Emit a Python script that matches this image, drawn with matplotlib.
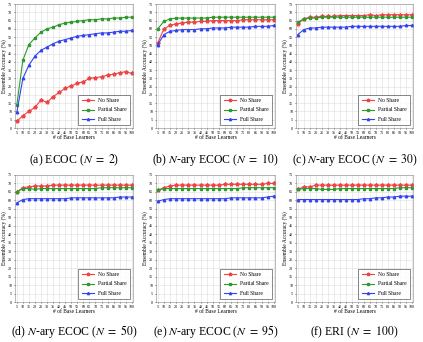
import numpy as np
import matplotlib
matplotlib.use('Agg')
import matplotlib.pyplot as plt

plt.rcParams['font.family'] = ['Liberation Serif', 'DejaVu Serif']
plt.rcParams['mathtext.fontset'] = 'stix'

# number of base learners
x = list(range(5, 105, 5))

# (a) ECOC (N = 2)
a_no = [4, 7.5, 10, 12.5, 17, 15.5, 19, 21.5, 24, 25.5, 27, 28, 30, 30.5, 31, 32, 32.5, 33.5, 34, 33]
a_partial = [14, 41, 50.5, 54.5, 58, 60, 61, 62.5, 63.5, 64, 64.5, 65, 65.5, 65.5, 66, 66, 66.5, 66.5, 67, 67]
a_full = [9.5, 30, 38, 43.5, 47, 49, 51, 52.5, 53.5, 54.5, 55.5, 56, 56.5, 57, 57.5, 57.5, 58, 58.5, 58.5, 59]

# (b) N-ary ECOC (N = 10)
b_no = [51.5, 60, 62, 63, 63.5, 64, 64, 64.5, 64.5, 65, 65, 65, 65, 65, 65.5, 65.5, 65.5, 65.5, 65.5, 65.5]
b_partial = [60, 64.5, 66, 66.5, 66.5, 66.5, 66.5, 66.5, 66.5, 67, 67, 67, 67, 67, 67, 67, 67, 67, 67, 67]
b_full = [50.5, 56.5, 58.5, 59, 59.5, 59.5, 59.5, 60, 60, 60.5, 60.5, 60.5, 61, 61, 61, 61, 61.5, 61.5, 61.5, 62]

# (c) N-ary ECOC (N = 30)
c_no = [63, 66, 67, 67, 67.5, 67.5, 67.5, 68, 68, 68, 68, 68, 68.5, 68, 68.5, 68.5, 68.5, 68.5, 68.5, 68.5]
c_partial = [64, 66, 66.5, 66.5, 67, 67, 67, 67, 67, 67, 67, 67, 67, 67, 67, 67, 67, 67, 67, 67]
c_full = [56.5, 59.5, 60.5, 60.5, 61, 61, 61, 61, 61, 61.5, 61.5, 61.5, 61.5, 61.5, 61.5, 61.5, 61.5, 61.5, 62, 62]

# (d) N-ary ECOC (N = 50)
d_no = [65, 67.5, 68, 68.5, 68.5, 68.5, 69, 69, 69, 69, 69, 69, 69, 69, 69, 69, 69, 69, 69, 69]
d_partial = [65, 67, 67, 66.5, 67, 67, 67, 67, 67, 67, 67, 67, 67, 67, 67.5, 67.5, 67.5, 67.5, 67.5, 67.5]
d_full = [58.5, 60.5, 61, 61, 61, 61, 61, 61, 61, 61.5, 61.5, 61.5, 61.5, 61.5, 61.5, 61.5, 61.5, 62, 62, 62]

# (e) N-ary ECOC (N = 95)
e_no = [66, 67.5, 68.5, 69, 69, 69, 69, 69, 69, 69, 69, 69.5, 69.5, 69.5, 69.5, 69.5, 69.5, 69.5, 70, 70]
e_partial = [66, 67, 67, 67, 67, 67, 67, 67, 67, 67, 67, 67, 67, 67, 67.5, 67.5, 67.5, 67.5, 67.5, 67.5]
e_full = [59.5, 60.5, 61, 61, 61, 61, 61, 61, 61, 61, 61, 61, 61.5, 61.5, 61.5, 61.5, 61.5, 61.5, 62, 62.5]

# (f) ERI (N = 100)
f_no = [66.5, 68, 68, 69, 69, 69, 69, 69, 69, 69, 69, 69, 69, 69, 69, 69, 69, 69, 69, 69]
f_partial = [66.5, 67, 67, 67, 66.5, 66.5, 66.5, 67, 67, 67, 67, 67, 67, 67, 67, 67, 67, 67.5, 67.5, 67.5]
f_full = [60.5, 60.5, 60.5, 60.5, 60.5, 60.5, 60.5, 60.5, 60.5, 60.5, 60.5, 61, 61, 61.5, 61.5, 62, 62, 62.5, 62.5, 62.5]

captions = [r'(a) ECOC ($N\ =\ 2$)', r'(b) $N$-ary ECOC ($N\ =\ 10$)', r'(c) $N$-ary ECOC ($N\ =\ 30$)',
            r'(d) $N$-ary ECOC ($N\ =\ 50$)', r'(e) $N$-ary ECOC ($N\ =\ 95$)', r'(f) ERI ($N\ =\ 100$)']
panels = [(a_no, a_partial, a_full), (b_no, b_partial, b_full), (c_no, c_partial, c_full),
          (d_no, d_partial, d_full), (e_no, e_partial, e_full), (f_no, f_partial, f_full)]

W, H = 423, 342
fig = plt.figure(figsize=(W / 100, H / 100), dpi=100)

lefts = [15, 156, 296]
widths = [118, 119, 117]
tops = [4, 175]
heights = [124, 127]
cap_y = [160, 332]

for i, (no, partial, full) in enumerate(panels):
    r, c = divmod(i, 3)
    l, w = lefts[c], widths[c]
    t, h = tops[r], heights[r]
    ax = fig.add_axes([l / W, 1 - (t + h) / H, w / W, h / H])
    ax.plot(x, no, color='#ee4444', marker='*', markersize=2.8, lw=0.8, label='No Share')
    ax.plot(x, partial, color='#2e9a2e', marker='s', markersize=1.8, lw=0.8, label='Partial Share')
    ax.plot(x, full, color='#3344ee', marker='^', markersize=1.8, lw=0.8, label='Full Share')
    ax.set_xlim(3.5, 101)
    ax.set_ylim(0, 75)
    ax.set_xticks(x)
    ax.set_yticks(range(0, 80, 5))
    ax.tick_params(labelsize=3, length=1, width=0.4, pad=1)
    ax.grid(True, color='#dddddd', lw=0.4)
    for s in ax.spines.values():
        s.set_linewidth(0.4)
        s.set_color('#888888')
    ax.set_xlabel('# of Base Learners', fontsize=4, labelpad=0.5)
    ax.set_ylabel('Ensemble Accuracy (%)', fontsize=4, labelpad=1)
    leg = ax.legend(loc='lower right', fontsize=4, fancybox=False, edgecolor='black',
                    borderpad=0.6, labelspacing=0.8, handlelength=2.2, markerscale=0.9)
    leg.get_frame().set_linewidth(0.4)
    fig.text((l + w / 2) / W, 1 - cap_y[r] / H, captions[i], ha='center', va='center', fontsize=8.5)

fig.savefig('out.png', dpi=100)
